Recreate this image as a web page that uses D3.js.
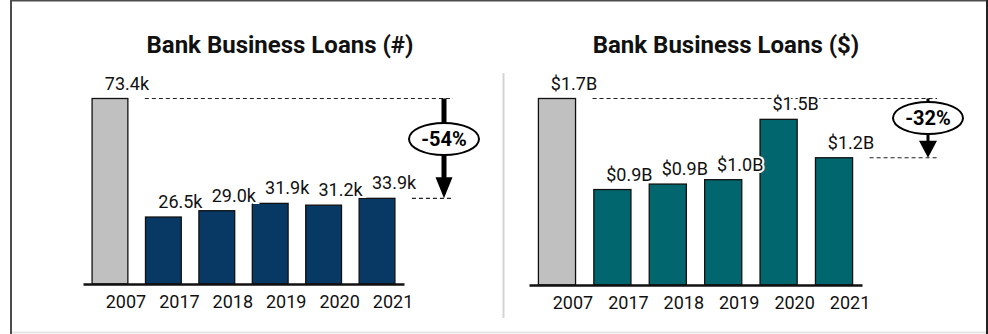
<!DOCTYPE html>
<html>
<head>
<meta charset="utf-8">
<script src="https://cdn.jsdelivr.net/npm/d3@7"></script>
<style>
  html, body { margin: 0; padding: 0; background: #fff; }
  svg { display: block; font-family: Roboto, "Noto Sans", sans-serif; }
</style>
</head>
<body>
<svg id="chart" width="988" height="334"></svg>
<script>
// Years shown on both panels
const years = ["2007", "2017", "2018", "2019", "2020", "2021"];
// Number of bank business loans, thousands
const loanCounts = [73.4, 26.5, 29.0, 31.9, 31.2, 33.9];
// Dollar volume of bank business loans, billions
const loanDollars = [1.7, 0.87, 0.92, 0.96, 1.51, 1.16];

const titles = ["Bank Business Loans (#)", "Bank Business Loans ($)"];

const svg = d3.select("#chart");

// Frame around the whole graphic
svg.append("line").attr("x1", 10).attr("x2", 987).attr("y1", 0.75).attr("y2", 0.75)
  .attr("stroke", "#4d4d4d").attr("stroke-width", 1.5);
svg.append("line").attr("x1", 11).attr("x2", 11).attr("y1", 0).attr("y2", 334)
  .attr("stroke", "#4d4d4d").attr("stroke-width", 2);
svg.append("line").attr("x1", 987).attr("x2", 987).attr("y1", 0).attr("y2", 334)
  .attr("stroke", "#222").attr("stroke-width", 2);
svg.append("line").attr("x1", 12).attr("x2", 986).attr("y1", 332.5).attr("y2", 332.5)
  .attr("stroke", "#e6e6e6").attr("stroke-width", 2);

// Divider between the two panels
svg.append("line").attr("x1", 503.5).attr("x2", 503.5).attr("y1", 73).attr("y2", 318)
  .attr("stroke", "#d4d4d4").attr("stroke-width", 2);

function panel(cfg) {
  const g = svg.append("g");
  const x = d3.scaleBand().domain(years).range(cfg.xRange)
    .paddingInner(0.33).paddingOuter(0.17);
  const y = d3.scaleLinear().domain([0, d3.max(cfg.values)]).range([cfg.base, 98.5]);

  // Title
  g.append("text")
    .attr("x", cfg.titleX).attr("y", 53)
    .attr("text-anchor", "middle")
    .attr("font-weight", 700).attr("font-size", 24).attr("fill", "#111")
    .text(cfg.title);

  const first = cfg.values[0];
  const last = cfg.values[cfg.values.length - 1];
  const arrowX = cfg.arrowX;

  // Reference lines at the first and last values
  g.append("line")
    .attr("x1", x(years[0]) + x.bandwidth() + 17).attr("x2", arrowX + 9)
    .attr("y1", y(first)).attr("y2", y(first))
    .attr("stroke", "#222").attr("stroke-width", 1.2).attr("stroke-dasharray", "4,3");
  g.append("line")
    .attr("x1", x(years[years.length - 1]) + x.bandwidth() + 17).attr("x2", arrowX + 9)
    .attr("y1", y(last)).attr("y2", y(last))
    .attr("stroke", "#222").attr("stroke-width", 1.2).attr("stroke-dasharray", "4,3");

  // Bars
  g.selectAll("rect.bar").data(cfg.values).join("rect")
    .attr("class", "bar")
    .attr("x", (d, i) => x(years[i]))
    .attr("width", x.bandwidth())
    .attr("y", d => y(d))
    .attr("height", d => cfg.base - y(d))
    .attr("fill", (d, i) => i === 0 ? "#c0c0c0" : cfg.color)
    .attr("stroke", "#111").attr("stroke-width", 1.3);

  // Value labels
  g.selectAll("text.val").data(cfg.values).join("text")
    .attr("class", "val")
    .attr("x", (d, i) => x(years[i]) + x.bandwidth() / 2 + 17)
    .attr("y", d => y(d) - 9)
    .attr("text-anchor", "middle")
    .attr("font-size", 18).attr("fill", "#111")
    .attr("stroke", "#fff").attr("stroke-width", 4).attr("paint-order", "stroke")
    .text(cfg.format);

  // Axis with year labels
  const axis = g.append("g")
    .attr("transform", `translate(0,${cfg.base})`)
    .call(d3.axisBottom(x).tickSize(0).tickSizeOuter(0).tickPadding(11));
  axis.select(".domain").attr("stroke", "#111").attr("stroke-width", 2.5);
  axis.selectAll("text")
    .attr("dx", 16).attr("font-size", 18).attr("fill", "#111")
    .attr("font-family", "Roboto, 'Noto Sans', sans-serif");

  // Change arrow
  const y0 = y(first), y1 = y(last);
  const head = cfg.headH;
  g.append("line")
    .attr("x1", arrowX).attr("x2", arrowX)
    .attr("y1", y0).attr("y2", y1 - head + 1)
    .attr("stroke", "#000").attr("stroke-width", cfg.shaft);
  g.append("path")
    .attr("d", `M${arrowX - cfg.headW / 2},${y1 - head} L${arrowX + cfg.headW / 2},${y1 - head} L${arrowX},${y1} Z`)
    .attr("fill", "#000");

  const pct = Math.round((last / first - 1) * 100);
  g.append("ellipse")
    .attr("cx", arrowX).attr("cy", cfg.ellY)
    .attr("rx", 35).attr("ry", 16)
    .attr("fill", "#fff").attr("stroke", "#000").attr("stroke-width", 2);
  g.append("text")
    .attr("x", arrowX).attr("y", cfg.ellY + 7)
    .attr("text-anchor", "middle")
    .attr("font-weight", 700).attr("font-size", 20).attr("fill", "#000")
    .text(`${pct}%`);
}

panel({
  title: titles[0], titleX: 280, values: loanCounts, color: "#083864",
  xRange: [83, 404], base: 284, arrowX: 444, ellY: 139,
  shaft: 5, headW: 17, headH: 21,
  format: d => `${d.toFixed(1)}k`
});

panel({
  title: titles[1], titleX: 726, values: loanDollars, color: "#02666f",
  xRange: [529, 862], base: 285, arrowX: 928, ellY: 118,
  shaft: 3, headW: 18, headH: 17,
  format: d => `$${d.toFixed(1)}B`
});
</script>
</body>
</html>
